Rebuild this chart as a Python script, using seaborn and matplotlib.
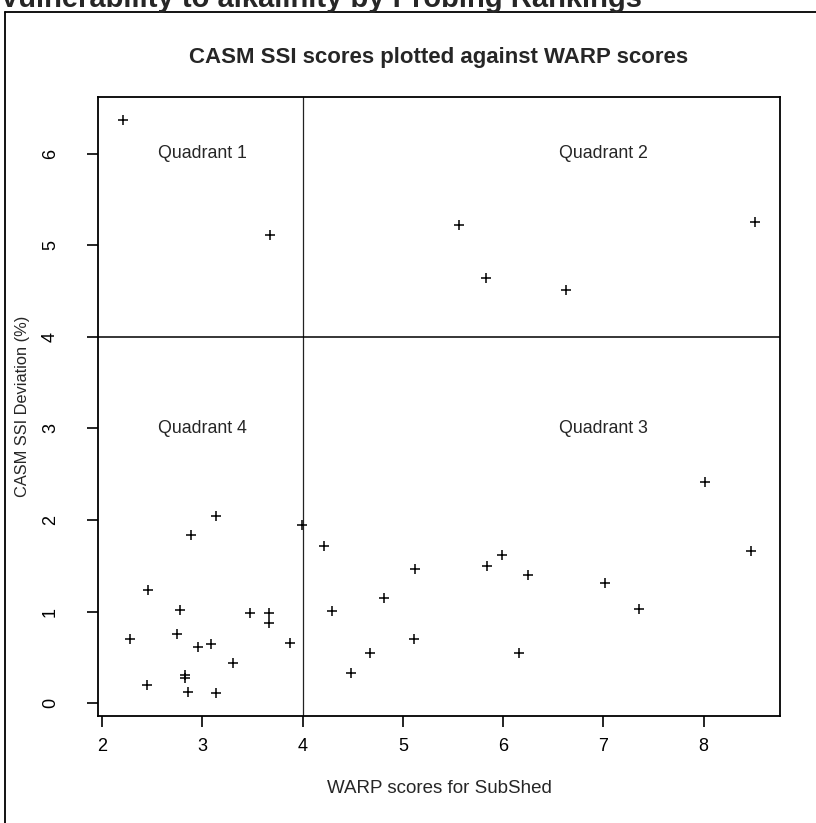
import matplotlib
matplotlib.use("Agg")
import matplotlib.pyplot as plt
from matplotlib.lines import Line2D
import seaborn as sns
import numpy as np
import pandas as pd

# WARP scores (x) and CASM SSI deviation (y) for each SubShed
warp = [2.21, 3.67,
        5.56, 5.83, 6.63, 8.51,
        3.14, 2.89, 3.99, 2.46, 2.78, 3.47, 3.66, 3.66, 2.28, 2.75, 3.87,
        3.09, 2.96, 3.30, 2.83, 2.83, 2.45, 2.86, 3.14,
        4.21, 4.29, 4.81, 4.67, 4.48, 5.12, 5.11, 5.84, 5.99, 6.25, 6.16,
        7.02, 7.36, 8.01, 8.47]
casm = [6.37, 5.11,
        5.22, 4.64, 4.51, 5.25,
        2.04, 1.84, 1.95, 1.24, 1.02, 0.99, 0.98, 0.87, 0.70, 0.75, 0.66,
        0.65, 0.61, 0.44, 0.31, 0.27, 0.20, 0.12, 0.11,
        1.72, 1.01, 1.15, 0.55, 0.33, 1.46, 0.70, 1.50, 1.62, 1.40, 0.55,
        1.31, 1.03, 2.41, 1.66]

x_ticks = [2, 3, 4, 5, 6, 7, 8]
y_ticks = [0, 1, 2, 3, 4, 5, 6]

# quadrant cut points and their labels
x_cut = 4
y_cut = 4
quad_names = ["Quadrant 1", "Quadrant 2", "Quadrant 4", "Quadrant 3"]
quad_x = [3, 7, 3, 7]
quad_y = [6, 6, 3, 3]

title = "CASM SSI scores plotted against WARP scores"
header = "Vulnerability to alkalinity by Probing Rankings"
xlabel = "WARP scores for SubShed"
ylabel = "CASM SSI Deviation (%)"

sns.set_style("ticks")
plt.rcParams["font.family"] = ["Liberation Sans", "DejaVu Sans"]

df = pd.DataFrame({"warp": warp, "casm": casm})

W, H = 816, 823
fig = plt.figure(figsize=(W / 100, H / 100), dpi=100)
fig.patch.set_facecolor("white")

left_px, right_px, top_px, bottom_px = 98, 780, 97, 716
ax = fig.add_axes([left_px / W, 1 - bottom_px / H,
                   (right_px - left_px) / W, (bottom_px - top_px) / H])

sns.scatterplot(data=df, x="warp", y="casm", marker="+", color="black",
                s=55, linewidth=1.1, ax=ax, zorder=3)

# R-style 4% padding on both axes
def padded(v):
    lo, hi = min(v), max(v)
    d = (hi - lo) * 0.04
    return lo - d, hi + d

ax.set_xlim(*padded(warp))
ax.set_ylim(*padded(casm))

ax.axvline(x_cut, color="#222222", lw=0.9, zorder=2)
ax.axhline(y_cut, color="black", lw=1.1, zorder=2)

for name, qx, qy in zip(quad_names, quad_x, quad_y):
    ax.text(qx, qy, name, ha="center", va="center", fontsize=12.8)

ax.set_xticks(x_ticks)
ax.set_yticks(y_ticks)
ax.set_xticklabels([str(t) for t in x_ticks])
ax.set_yticklabels([str(t) for t in y_ticks], rotation=90, va="center")

for s in ax.spines.values():
    s.set_visible(True)
    s.set_color("black")
    s.set_linewidth(1.3)

ax.tick_params(axis="x", direction="out", length=8, width=1.2,
               labelsize=13, pad=8, colors="black")
ax.tick_params(axis="y", direction="out", length=8, width=1.2,
               labelsize=13, pad=20, colors="black")

ax.set_xlabel(xlabel, fontsize=13.5)
ax.set_ylabel(ylabel, fontsize=11.8)
plot_h = bottom_px - top_px
plot_w = right_px - left_px
ax.xaxis.set_label_coords(0.5, -(780 - bottom_px) / plot_h)
ax.yaxis.set_label_coords(-(left_px - 30) / plot_w, 0.5)
ax.grid(False)

fig.text((left_px + right_px) / 2 / W, 1 - 57 / H, title,
         ha="center", va="center", fontsize=16, fontweight="bold")

# bold header running off the top edge
fig.text(0.0, 1 - 7 / H, header, ha="left", va="baseline",
         fontsize=21, fontweight="bold")

# outer frame around the figure
fig.add_artist(Line2D([5 / W, 1.0], [1 - 12 / H, 1 - 12 / H],
                      transform=fig.transFigure, color="black", lw=1.3))
fig.add_artist(Line2D([5 / W, 5 / W], [0.0, 1 - 12 / H],
                      transform=fig.transFigure, color="black", lw=1.3))

fig.savefig("out.png", dpi=100, facecolor="white")
